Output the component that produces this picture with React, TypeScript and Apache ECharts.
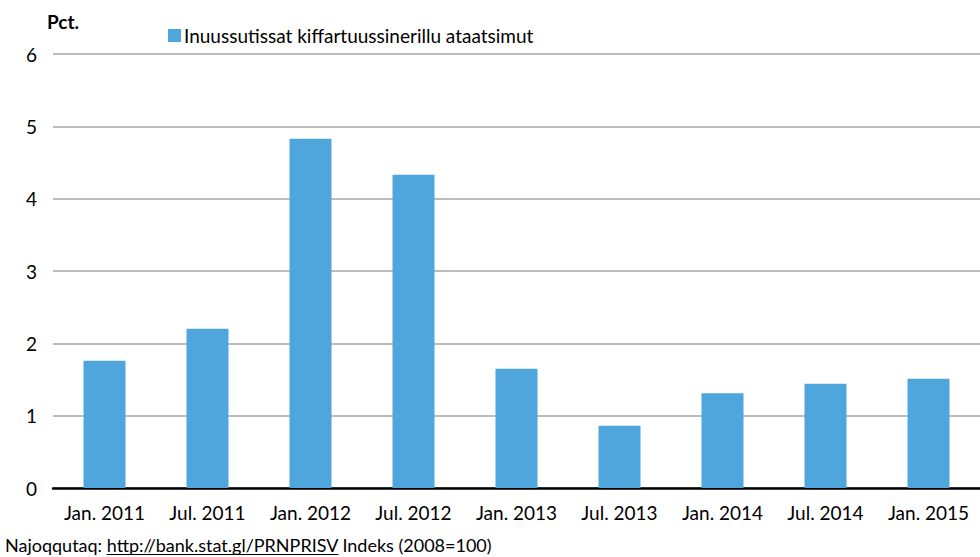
import React, { useEffect, useRef } from "react";
import * as echarts from "echarts";

const categories = ["Jan. 2011", "Jul. 2011", "Jan. 2012", "Jul. 2012", "Jan. 2013", "Jul. 2013", "Jan. 2014", "Jul. 2014", "Jan. 2015"];
const values = [1.76, 2.2, 4.83, 4.33, 1.65, 0.86, 1.31, 1.44, 1.51];
const seriesName = "Inuussutissat kiffartuussinerillu ataatsimut";
const yTicks = [0, 1, 2, 3, 4, 5, 6];
const sourcePrefix = "Najoqqutaq: ";
const sourceLink = "http://bank.stat.gl/PRNPRISV";
const sourceSuffix = " Indeks (2008=100)";

const FONT = "Lato, 'Noto Sans', sans-serif";
const FOOT_SIZE = 18;

function measure(text: string, size: number): number {
  const c = document.createElement("canvas").getContext("2d");
  if (!c) return text.length * size * 0.5;
  c.font = `${size}px ${FONT}`;
  return c.measureText(text).width;
}

export default function App() {
  const ref = useRef<HTMLDivElement>(null);
  useEffect(() => {
    if (!ref.current) return;
    const chart = echarts.init(ref.current, null, { renderer: "svg" });
    const footLeft = 5;
    const preW = measure(sourcePrefix, FOOT_SIZE);
    const linkW = measure(sourceLink, FOOT_SIZE);
    chart.setOption({
      animation: false,
      textStyle: { fontFamily: FONT },
      grid: { left: 53, right: -10, top: 54, bottom: 69, containLabel: false },
      legend: {
        left: 163,
        top: 21,
        itemWidth: 13,
        itemHeight: 13,
        itemGap: 4,
        icon: "rect",
        textStyle: { fontFamily: FONT, fontSize: 19, color: "#000", padding: [0, 0, 0, -2] },
        data: [seriesName],
      },
      xAxis: {
        type: "category",
        data: categories,
        axisLine: { lineStyle: { color: "#000", width: 2.5 } },
        axisTick: { show: false },
        axisLabel: { color: "#000", fontSize: 19, fontFamily: FONT, margin: 15, interval: 0 },
      },
      yAxis: {
        type: "value",
        min: yTicks[0],
        max: yTicks[yTicks.length - 1],
        interval: 1,
        axisLine: { show: false },
        axisTick: { show: false },
        axisLabel: { color: "#000", fontSize: 19, fontFamily: FONT, margin: 16 },
        splitLine: { lineStyle: { color: "#a6a6a6", width: 1.5 } },
      },
      series: [
        {
          name: seriesName,
          type: "bar",
          data: values,
          barWidth: 42,
          itemStyle: { color: "#4ea6dc" },
        },
      ],
      graphic: [
        {
          type: "text",
          left: 47,
          top: 12,
          style: { text: "Pct.", fontFamily: FONT, fontSize: 19, fontWeight: "bold", fill: "#000" },
        },
        {
          type: "text",
          left: footLeft,
          top: 536,
          style: {
            text: sourcePrefix + sourceLink + sourceSuffix,
            fontFamily: FONT,
            fontSize: FOOT_SIZE,
            fill: "#000",
          },
        },
        {
          type: "line",
          shape: { x1: footLeft + preW, y1: 554.5, x2: footLeft + preW + linkW, y2: 554.5 },
          style: { stroke: "#000", lineWidth: 1 },
        },
      ],
    });
    return () => chart.dispose();
  }, []);
  return <div ref={ref} style={{ width: 980, height: 557, position: "fixed", left: 0, top: 0, background: "#fff" }} />;
}
